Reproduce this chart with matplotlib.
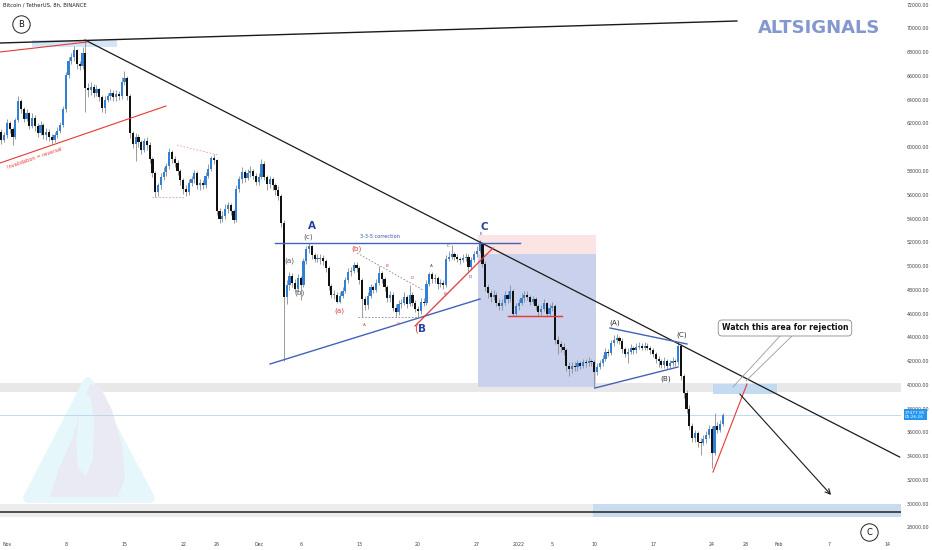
import numpy as np
import pandas as pd
import matplotlib
matplotlib.use("Agg")
import matplotlib.pyplot as plt
import matplotlib.transforms as mtransforms
from matplotlib.patches import Rectangle, Polygon

# Velas de 8h do BTC/USDT (valores em milhares de USD).
CANDLE_START = "2021-10-31 00:00"
ORIGIN = pd.Timestamp("2021-11-01")
FIRST_OPEN = 61.2

closes = [
    61.3, 60.6, 61.0,  62.0, 61.5, 60.9,  62.3, 63.9, 63.2,  62.4, 62.9, 61.8,
    62.5, 61.8, 61.2,  61.9, 61.0, 61.3,  60.9, 60.6, 61.0,  61.4, 61.9, 63.2,
    66.1, 67.3, 67.6,  68.2, 67.0, 66.8,  67.9, 65.0, 64.8,  65.1, 64.6, 64.9,
    64.2, 63.3, 64.0,  64.3, 64.6, 64.2,  64.5, 64.3, 65.5,  65.8, 64.3, 61.2,
    60.3, 60.9, 60.4,  59.8, 60.5, 60.2,  59.0, 57.8, 56.2,  56.8, 57.5, 57.9,
    58.4, 59.6, 59.0,  58.7, 58.0, 57.2,  56.5, 56.2, 57.0,  57.3, 57.8, 56.8,
    57.0, 56.8, 57.6,  58.2, 59.1, 58.9,  54.6, 54.0, 54.2,  54.8, 55.1, 54.6,
    53.9, 56.5, 57.3,  57.9, 57.4, 57.8,  58.0, 57.6, 57.1,  57.5, 58.6, 57.5,
    56.9, 57.3, 56.8,  56.4, 55.9, 53.6,  47.4, 48.4, 49.2,  48.6, 48.1, 49.0,
    48.4, 50.4, 51.4,  51.7, 50.9, 50.6,  50.6, 50.7, 50.4,  49.8, 48.3, 47.6,
    47.6, 47.0, 47.5,  47.9, 48.8, 49.5,  49.6, 50.1, 49.8,  48.8, 47.2, 46.7,
    47.5, 48.2, 48.0,  48.6, 49.4, 48.9,  48.2, 47.3, 47.6,  46.5, 46.1, 46.8,
    46.9, 47.4, 46.8,  47.6, 46.9, 46.4,  46.2, 47.0, 46.9,  48.5, 49.3, 48.9,
    49.0, 48.5, 48.6,  48.4, 50.6, 50.8,  51.0, 50.8, 50.6,  50.5, 50.7, 50.8,
    49.9, 50.5, 51.0,  51.3, 51.9, 50.2,  48.2, 47.7, 47.4,  47.6, 46.9, 46.6,
    46.9, 47.6, 47.2,  47.9, 46.0, 46.6,  46.9, 47.3, 47.6,  47.4, 47.0, 47.2,
    46.6, 46.1, 46.4,  46.9, 46.0, 46.5,  46.6, 43.8, 43.4,  43.2, 42.9, 41.6,
    41.3, 41.6, 41.5,  41.8, 41.6, 41.9,  41.8, 42.0, 41.9,  41.1, 41.5, 41.8,
    42.2, 42.8, 42.7,  43.5, 43.8, 43.9,  43.7, 43.0, 42.6,  42.8, 43.1, 42.9,
    43.2, 43.3, 43.1,  43.3, 43.1, 42.9,  42.6, 42.2, 42.0,  41.7, 42.0, 41.6,
    41.8, 42.0, 41.9,  43.3, 40.7, 39.3,  38.0, 36.5, 35.5,  35.9, 35.2, 35.1,
    35.4, 35.8, 36.3,  34.3, 36.5, 36.2,  36.7, 37.48,
]
highs = [
    61.8, 61.5, 61.3,  62.4, 62.2, 61.7,  62.5, 64.3, 64.1,  63.4, 63.2, 63.0,
    62.9, 62.7, 62.0,  62.2, 62.0, 61.6,  61.5, 61.1, 61.3,  61.7, 62.1, 63.5,
    66.3, 67.6, 67.9,  68.5, 68.3, 67.3,  68.4, 69.0, 65.4,  65.5, 65.3, 65.2,
    65.0, 64.4, 64.3,  64.6, 64.9, 64.8,  64.8, 64.7, 65.9,  66.4, 66.0, 64.5,
    61.4, 61.2, 61.1,  60.6, 60.8, 60.9,  60.4, 59.2, 58.0,  57.0, 57.8, 58.3,
    58.7, 59.9, 59.8,  59.3, 58.9, 58.2,  57.4, 56.8, 57.3,  57.6, 58.1, 58.0,
    57.3, 57.2, 57.9,  58.6, 59.3, 59.4,  59.0, 54.9, 54.6,  55.2, 55.4, 55.3,
    54.8, 56.8, 57.6,  58.3, 58.1, 58.2,  58.4, 58.2, 57.8,  57.8, 59.0, 58.8,
    57.7, 57.6, 57.5,  57.0, 56.7, 56.1,  53.9, 48.8, 49.5,  49.4, 48.9, 49.3,
    49.2, 50.7, 51.7,  51.9, 51.8, 51.1,  51.0, 51.0, 50.9,  50.6, 50.0, 48.5,
    48.0, 47.8, 47.8,  48.2, 49.1, 49.8,  49.9, 50.3, 50.3,  50.0, 49.0, 47.5,
    47.8, 48.5, 48.4,  48.9, 50.0, 49.6,  49.1, 48.4, 47.9,  47.8, 46.8, 47.1,
    47.2, 47.8, 47.6,  48.4, 47.8, 47.1,  46.6, 47.3, 47.3,  48.8, 49.5, 49.5,
    49.3, 49.2, 48.9,  48.8, 50.9, 51.3,  51.8, 51.2, 51.0,  50.8, 51.0, 51.1,
    51.0, 50.8, 51.3,  51.7, 52.2, 52.0,  50.4, 48.5, 48.0,  48.0, 47.8, 47.2,
    47.2, 47.9, 47.9,  48.4, 48.1, 46.9,  47.2, 47.7, 47.9,  47.9, 47.6, 47.5,
    47.4, 46.8, 46.7,  47.2, 47.0, 46.8,  47.0, 46.8, 44.1,  43.7, 43.5, 43.1,
    41.9, 41.9, 41.9,  42.1, 42.0, 42.2,  42.2, 42.3, 42.2,  42.1, 41.8, 42.1,
    42.5, 43.1, 43.0,  43.8, 44.2, 44.3,  44.1, 43.9, 43.2,  43.1, 43.4, 43.3,
    43.5, 43.6, 43.5,  43.6, 43.5, 43.3,  43.1, 42.8, 42.4,  42.2, 42.3, 42.2,
    42.1, 42.3, 42.2,  43.5, 43.4, 40.9,  39.6, 38.3, 36.8,  36.2, 36.1, 35.5,
    35.8, 36.1, 36.6,  36.5, 37.6, 36.9,  37.0, 37.6,
]
lows = [
    60.9, 60.3, 60.4,  60.8, 61.2, 60.2,  60.7, 62.1, 62.9,  62.1, 62.2, 61.5,
    61.6, 61.4, 60.9,  61.0, 60.7, 60.6,  60.5, 60.3, 60.4,  60.8, 61.2, 61.7,
    63.0, 65.8, 67.0,  67.3, 66.6, 66.5,  66.6, 63.0, 64.2,  64.4, 64.2, 64.3,
    63.9, 63.0, 62.9,  63.8, 64.0, 63.9,  63.9, 64.0, 64.1,  65.2, 64.0, 60.8,
    59.9, 58.8, 60.0,  59.4, 59.6, 59.8,  58.7, 57.5, 55.8,  55.9, 56.5, 57.2,
    57.6, 58.2, 58.7,  58.3, 57.7, 56.8,  56.1, 55.9, 56.0,  56.7, 57.0, 56.5,
    56.4, 56.5, 56.6,  57.4, 58.0, 58.6,  54.3, 53.6, 53.7,  54.0, 54.5, 54.3,
    53.6, 53.7, 56.2,  57.0, 57.1, 57.2,  57.5, 57.3, 56.8,  56.8, 57.3, 57.2,
    56.4, 56.6, 56.4,  56.0, 55.6, 53.3,  42.0, 46.8, 48.0,  48.2, 47.8, 47.9,
    47.1, 48.2, 50.2,  51.1, 50.6, 50.3,  50.3, 50.2, 50.1,  49.5, 48.0, 47.3,
    47.2, 46.9, 46.9,  47.3, 47.7, 48.6,  49.2, 49.4, 49.5,  48.5, 45.7, 46.3,
    46.4, 47.3, 47.7,  47.8, 48.4, 48.6,  47.9, 47.0, 47.0,  46.2, 45.7, 45.9,
    46.5, 46.7, 46.5,  46.6, 46.6, 46.1,  45.7, 46.0, 46.6,  46.7, 48.3, 48.6,
    48.6, 48.1, 48.2,  48.1, 48.2, 50.4,  50.6, 50.5, 50.3,  50.2, 50.3, 50.4,
    49.6, 49.7, 50.3,  50.8, 51.1, 49.9,  47.9, 47.3, 47.0,  47.1, 46.6, 46.3,
    46.3, 46.7, 46.9,  47.0, 45.8, 45.8,  46.3, 46.7, 47.0,  47.1, 46.7, 46.8,
    46.3, 45.8, 45.9,  46.2, 45.7, 45.8,  46.2, 43.4, 42.6,  42.8, 42.5, 41.2,
    40.7, 41.0, 41.2,  41.2, 41.3, 41.4,  41.5, 41.6, 41.6,  39.7, 40.8, 41.3,
    41.6, 42.0, 42.4,  42.5, 43.3, 43.5,  43.4, 42.7, 42.3,  41.8, 42.6, 42.6,
    42.7, 43.0, 42.9,  42.9, 42.9, 42.6,  42.3, 41.8, 41.5,  41.4, 41.4, 41.3,
    41.4, 41.6, 41.6,  41.7, 40.4, 38.9,  37.6, 36.2, 35.2,  35.2, 34.8, 34.1,
    34.9, 35.1, 35.5,  33.0, 34.1, 35.9,  36.0, 36.5,
]

last_price = 37477.85
last_timer = "05:26:26"
price_ticks = list(range(28000, 72001, 2000))
date_ticks = ["2021-11-01", "2021-11-08", "2021-11-15", "2021-11-22", "2021-11-26",
              "2021-12-01", "2021-12-06", "2021-12-13", "2021-12-20", "2021-12-27",
              "2022-01-01", "2022-01-05", "2022-01-10", "2022-01-17", "2022-01-24",
              "2022-01-28", "2022-02-01", "2022-02-07", "2022-02-14"]
date_labels = ["Nov", "8", "15", "22", "26", "Dec", "6", "13", "20", "27",
               "2022", "5", "10", "17", "24", "28", "Feb", "7", "14"]

UP = "#2f80d6"
DOWN = "#111111"
BLUE_LINE = "#4462b8"
RED = "#e53935"


def main():
    times = pd.date_range(CANDLE_START, periods=len(closes), freq="8h")
    x = np.array((times - ORIGIN) / pd.Timedelta(days=1))
    c = np.array(closes) * 1000
    o = np.array([FIRST_OPEN] + closes[:-1]) * 1000
    h = np.maximum(np.array(highs) * 1000, np.maximum(o, c))
    l = np.minimum(np.array(lows) * 1000, np.minimum(o, c))

    fig = plt.figure(figsize=(9.32, 5.5), dpi=100)
    ax = fig.add_axes([0, 13 / 550, 901 / 932, 537 / 550])
    ax.set_xlim(-0.834, 106.56)
    ax.set_ylim(27186, 72396)
    for s in ax.spines.values():
        s.set_visible(False)

    # --- zonas / caixas de fundo
    ax.axhspan(39394, 40151, color="#e8e8e8", zorder=0, lw=0)
    ax.axhspan(28870, 29964, xmax=(69.85 + 0.834) / 107.39, color="#ececec", zorder=0, lw=0)
    ax.axhspan(28870, 29964, xmin=(69.85 + 0.834) / 107.39, color="#c9dcef", zorder=0, lw=0)
    ax.axhline(29291, color="#222222", lw=1.1, zorder=2)
    ax.add_patch(Rectangle((56.14, 50996), 14.06, 1615, color="#fbe4e4", lw=0, zorder=0))
    ax.add_patch(Rectangle((56.14, 39814), 14.06, 11182, color="#c9d1ec", lw=0, zorder=0))
    ax.add_patch(Rectangle((2.98, 68439), 10.13, 589, color="#d3e5f6", lw=0, zorder=0))
    ax.add_patch(Rectangle((84.15, 39225), 7.63, 842, color="#c3daf1", lw=0, zorder=1))
    ax.axhline(last_price, color="#b9d3ea", lw=0.6, zorder=1)

    # --- marca de agua (logo)
    ax.add_patch(Polygon([(9.65, 40235), (2.5, 30468), (17.04, 30468)], closed=True,
                         fc="#e6f7fc", ec="#e6f7fc", lw=7, joinstyle="round", zorder=0))
    ax.add_patch(Polygon([(9.89, 40067), (11.08, 39899), (12.51, 37878), (13.71, 34932),
                          (14.06, 32153), (13.23, 30553), (5.13, 30553), (6.08, 32826),
                          (7.75, 35352), (8.94, 38299)], closed=True,
                         fc="#eaeaf4", ec="none", zorder=0))
    ax.add_patch(Polygon([(8.94, 39141), (9.89, 39141), (10.37, 37036), (10.25, 33669),
                          (9.42, 32322), (8.46, 32995), (8.22, 35352)], closed=True,
                         fc="#e6f7fc", ec="none", zorder=0))

    # --- velas
    up = c >= o
    ax.vlines(x, l, h, color="#8c8c8c", lw=0.6, zorder=3)
    body = np.maximum(np.abs(c - o), 60)
    ax.bar(x[up], body[up], bottom=np.minimum(o, c)[up], width=0.26, color=UP, lw=0, zorder=4)
    ax.bar(x[~up], body[~up], bottom=np.minimum(o, c)[~up], width=0.26, color=DOWN, lw=0, zorder=4)

    # --- linhas de tendencia e desenhos
    ax.plot([-0.83, 87.0], [68776, 70628], color="#1a1a1a", lw=1.0, zorder=5)
    ax.plot([9.30, 106.4], [69028, 33920], color="#1a1a1a", lw=0.9, zorder=5)
    ax.plot([-0.83, 9.54], [68018, 68860], color=RED, lw=0.8, zorder=5)
    ax.plot([-0.83, 18.95], [58673, 63472], color=RED, lw=0.8, zorder=5)
    ax.text(0.0, 58500, "Invalidation = reversal", color=RED, fontsize=3.6,
            rotation=19, rotation_mode="anchor", ha="left", va="top", zorder=6)
    ax.plot([20.26, 25.15], [60188, 59346], color="#e79a9a", lw=0.6, ls=(0, (2, 2)), zorder=5)
    ax.plot([17.28, 21.22], [55810, 55810], color="#e79a9a", lw=0.6, ls=(0, (2, 2)), zorder=5)

    ax.plot([31.94, 61.14], [51938, 51938], color=BLUE_LINE, lw=1.0, zorder=5)
    ax.text(44.46, 52300, "3-3-5 correction", color="#3050b0", fontsize=3.6, ha="center", va="bottom", zorder=6)
    ax.plot([31.35, 56.38], [41751, 47224], color=BLUE_LINE, lw=1.0, zorder=5)
    ax.plot([41.72, 49.58], [51095, 47981], color="#888888", lw=0.6, ls=(0, (2, 2)), zorder=5)
    ax.plot([41.84, 49.23], [45708, 45708], color="#888888", lw=0.6, ls=(0, (2, 2)), zorder=5)
    ax.plot([48.63, 57.93], [44950, 51517], color=RED, lw=0.9, zorder=5)
    ax.plot([59.71, 66.15], [45792, 45792], color=RED, lw=1.0, zorder=5)

    ax.plot([71.87, 81.05], [44782, 43435], color=BLUE_LINE, lw=1.0, zorder=5)
    ax.plot([70.08, 79.98], [39730, 41498], color=BLUE_LINE, lw=1.0, zorder=5)
    ax.plot([84.15, 88.2], [32658, 40067], color=RED, lw=0.8, zorder=5)
    ax.annotate("", xy=(98.45, 30554), xytext=(87.13, 39394),
                arrowprops=dict(arrowstyle="->", color="#1a1a1a", lw=0.8, mutation_scale=9), zorder=5)

    # caixa de comentario
    ax.plot([92.13, 86.53], [44108, 39814], color="#9a9a9a", lw=0.6, zorder=5)
    ax.plot([93.56, 88.08], [44108, 40319], color="#9a9a9a", lw=0.6, zorder=5)
    ax.text(92.73, 44782, "Watch this area for rejection", fontsize=5.6, fontweight="bold",
            ha="center", va="center", color="#111111", zorder=7,
            bbox=dict(boxstyle="round,pad=0.45,rounding_size=0.5", fc="white", ec="#8a8a8a", lw=0.6))

    # --- rotulos das ondas
    big = dict(color="#2b3f9e", fontsize=7.5, fontweight="bold", ha="center", va="center", zorder=7)
    ax.text(36.35, 53370, "A", **big)
    ax.text(56.85, 53250, "C", **big)
    ax.text(49.46, 44698, "B", **big)
    ax.text(48.75, 44698, "(", color=RED, fontsize=7, ha="center", va="center", zorder=7)
    gray = dict(color="#555555", fontsize=5.2, ha="center", va="center", zorder=7)
    ax.text(35.88, 52443, "(c)", **gray)
    ax.text(33.61, 50422, "(a)", **gray)
    ax.text(34.92, 47728, "(b)", **gray)
    red = dict(color="#d84040", fontsize=5.2, ha="center", va="center", zorder=7)
    ax.text(41.6, 51432, "(b)", **red)
    ax.text(39.57, 46212, "(a)", **red)
    small_red = dict(color="#d84040", fontsize=3.0, ha="center", va="center", zorder=7)
    for lx, ly, t in [(42.55, 45033, "A"), (45.29, 50000, "B"), (46.6, 45118, "C"),
                      (48.27, 48991, "D"), (52.2, 47644, "B")]:
        ax.text(lx, ly, t, **small_red)
    small_dark = dict(color="#3a4a8a", fontsize=3.0, ha="center", va="center", zorder=7)
    for lx, ly, t in [(50.54, 50000, "A"), (52.56, 51685, "C"), (55.18, 49075, "D"),
                      (56.5, 52696, "E")]:
        ax.text(lx, ly, t, **small_dark)
    dark = dict(color="#333333", fontsize=5.2, ha="center", va="center", zorder=7)
    ax.text(72.47, 45202, "(A)", **dark)
    ax.text(78.55, 40487, "(B)", **dark)
    ax.text(80.45, 44192, "(C)", **dark)

    # circulos B e C
    for cx, cy, t in [(1.67, 70375, "B"), (102.74, 27606, "C")]:
        ax.plot(cx, cy, "o", ms=12.5, mfc="white", mec="#222222", mew=0.7, zorder=7, clip_on=False)
        ax.text(cx, cy, t, fontsize=6, ha="center", va="center", color="#111111", zorder=8, clip_on=False)

    ax.text(96.8, 70039, "ALTSIGNALS", fontsize=13, fontweight="semibold", color="#8497cf",
            ha="center", va="center", zorder=7)

    # --- eixos
    ax.yaxis.tick_right()
    ax.set_yticks(price_ticks)
    ax.set_yticklabels([f"{p:.2f}" for p in price_ticks])
    ax.tick_params(axis="y", length=0, pad=4, labelsize=3.4, labelcolor="#444444")
    tick_x = [(pd.Timestamp(d) - ORIGIN) / pd.Timedelta(days=1) for d in date_ticks]
    ax.set_xticks(tick_x)
    ax.set_xticklabels(date_labels)
    ax.tick_params(axis="x", length=0, pad=3.5, labelsize=3.4, labelcolor="#444444")

    trans = mtransforms.blended_transform_factory(ax.transAxes, ax.transData)
    ax.text(1.0045, last_price, f"{last_price:.2f}\n{last_timer}", transform=trans,
            fontsize=3.1, color="white", ha="left", va="center", linespacing=1.1, zorder=9,
            bbox=dict(boxstyle="square,pad=0.35", fc="#2196f3", ec="none"), clip_on=False)

    fig.text(3 / 932, 1 - 5 / 550, "Bitcoin / TetherUS, 8h, BINANCE", fontsize=3.8,
             color="#222222", ha="left", va="center")

    fig.savefig("out.png", dpi=100, facecolor="white")


if __name__ == "__main__":
    main()
